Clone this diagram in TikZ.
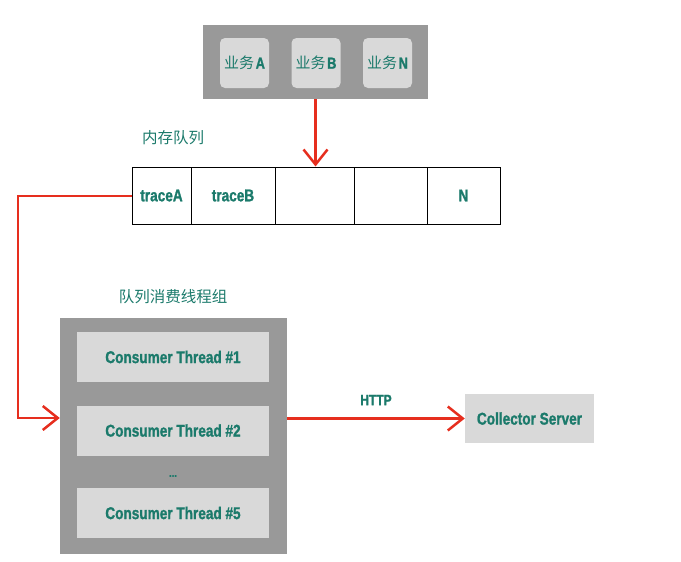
\documentclass[tikz,border=0pt]{standalone}
\usepackage{fontspec}
\setmainfont{Liberation Sans}
\newfontfamily\cjk{Noto Sans CJK SC}
\newfontfamily\lab[FakeStretch=0.8,FakeBold=1.2]{Liberation Sans}
\usetikzlibrary{arrows.meta,calc}
\definecolor{teal1}{HTML}{1B7A6B}
\definecolor{outerg}{HTML}{999999}
\definecolor{innerg}{HTML}{D9D9D9}
\definecolor{redl}{HTML}{E62E1E}
\tikzset{
  outerbox/.style={fill=outerg,draw=none,inner sep=0pt},
  svcbox/.style={fill=innerg,draw=none,rounded corners=5pt,minimum width=49pt,minimum height=50pt,inner sep=0pt,text=teal1},
  cell/.style={draw=black,line width=1pt,minimum height=57pt,inner sep=0pt,text=teal1,font=\lab\bfseries\fontsize{17}{20}\selectfont},
  thrbox/.style={fill=innerg,draw=none,minimum width=192pt,minimum height=50pt,inner sep=0pt,text=teal1,font=\lab\bfseries\fontsize{17}{20}\selectfont},
  cjklabel/.style={text=teal1,inner sep=0pt,font=\cjk\fontsize{15.5}{18}\selectfont},
  redarrow/.style={draw=redl,line width=2.5pt,-{Straight Barb[length=15pt,width=24pt,line width=2.5pt]}},
}
\newcommand{\svc}[1]{{\cjk\fontsize{15}{18}\selectfont 业务}\,{\lab\bfseries\fontsize{16}{18}\selectfont #1}}
\begin{document}
\begin{tikzpicture}[x=1pt,y=-1pt]
\useasboundingbox (0,0) rectangle (681,562);
% top services
\node[outerbox,minimum width=225pt,minimum height=74pt] (top) at (315.5,62) {};
\node[svcbox] (sa) at (244.5,63) {\svc{A}};
\node[svcbox] (sb) at (316,63) {\svc{B}};
\node[svcbox] (sn) at (387.5,63) {\svc{N}};
% queue
\node[cjklabel] (qlabel) at (173,138) {内存队列};
\node[cell,minimum width=59pt] (c1) at (161.5,195.5) {traceA};
\node[cell,minimum width=84pt] (c2) at (233,195.5) {traceB};
\node[cell,minimum width=79pt] (c3) at (314.5,195.5) {};
\node[cell,minimum width=73pt] (c4) at (390.5,195.5) {};
\node[cell,minimum width=73pt] (c5) at (463.5,195.5) {N};
% consumer group
\node[cjklabel] (glabel) at (173,297) {队列消费线程组};
\node[outerbox,minimum width=227pt,minimum height=236pt] (grp) at (173.5,436) {};
\node[thrbox] (t1) at (173,357) {Consumer Thread \#1};
\node[thrbox] (t2) at (173,430.5) {Consumer Thread \#2};
\node[text=teal1,inner sep=0pt,font=\lab\bfseries\fontsize{12}{14}\selectfont] (dots) at (173,476) {...};
\node[thrbox] (t5) at (173,513) {Consumer Thread \#5};
% collector
\node[fill=innerg,minimum width=129pt,minimum height=49pt,inner sep=0pt,text=teal1,font=\lab\bfseries\fontsize{17}{20}\selectfont] (coll) at (529.5,418.5) {Collector Server};
\node[text=teal1,inner sep=0pt,font=\lab\bfseries\fontsize{15}{18}\selectfont] (http) at (376,400) {HTTP};
% arrows
\draw[redarrow] (top.south) -- (top.south |- c3.north);
\coordinate (b1) at (18,196);
\coordinate (b2) at (18,418);
\draw[redarrow] (c1.west |- b1) -- (b1) -- (b2) -- (b2 -| grp.west);
\draw[redarrow] (coll.west -| grp.east) -- (coll.west);
\end{tikzpicture}
\end{document}
